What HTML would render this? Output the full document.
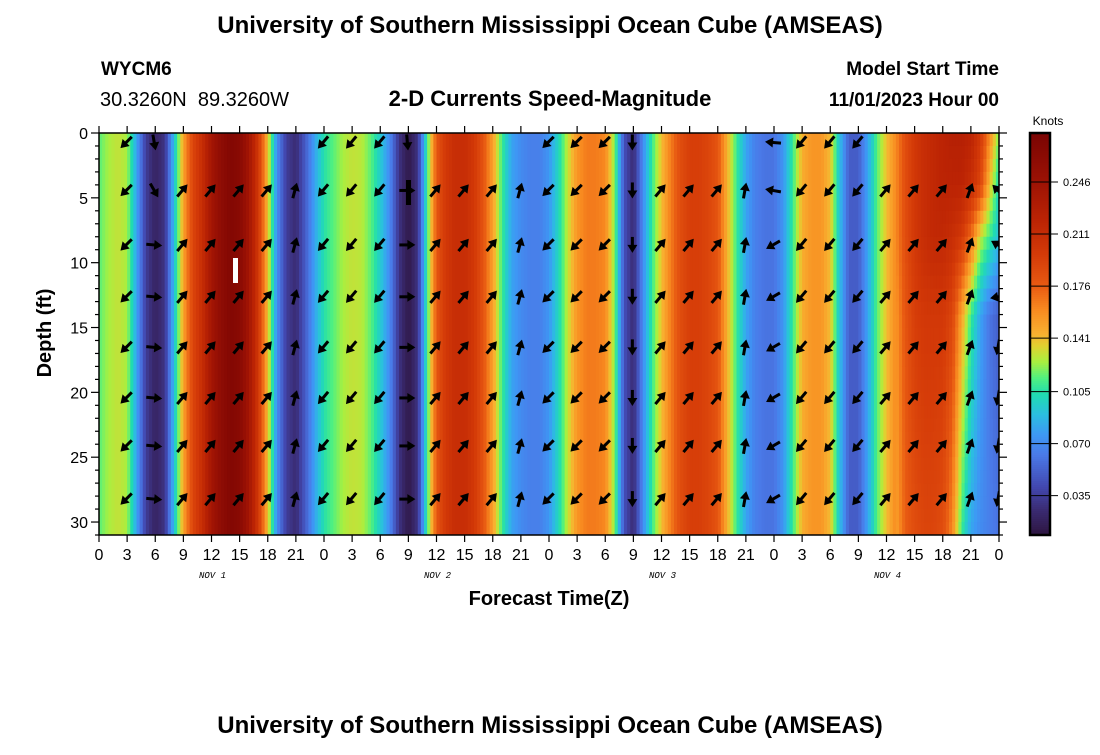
<!DOCTYPE html>
<html><head><meta charset="utf-8">
<style>
html,body{margin:0;padding:0;background:#fff;}
svg text{font-family:"Liberation Sans",Arial,sans-serif;}
</style></head>
<body>
<svg id="chart" width="1100" height="750" viewBox="0 0 1100 750" xmlns="http://www.w3.org/2000/svg">
  <text x="550" y="33" font-size="24" font-weight="bold" text-anchor="middle">University of Southern Mississippi Ocean Cube (AMSEAS)</text>
  <text x="101" y="75" font-size="19" font-weight="bold">WYCM6</text>
  <text x="100" y="106" font-size="20" xml:space="preserve">30.3260N  89.3260W</text>
  <text x="550" y="106" font-size="22" font-weight="bold" text-anchor="middle">2-D Currents Speed-Magnitude</text>
  <text x="999" y="75" font-size="19" font-weight="bold" text-anchor="end">Model Start Time</text>
  <text x="999" y="106" font-size="19" font-weight="bold" text-anchor="end">11/01/2023 Hour 00</text>
  <text x="1048" y="125" font-size="12" text-anchor="middle">Knots</text>
  <text transform="translate(51,333) rotate(-90)" font-size="20" font-weight="bold" text-anchor="middle">Depth (ft)</text>
  <text x="549" y="605" font-size="20" font-weight="bold" text-anchor="middle">Forecast Time(Z)</text>
  <text x="550" y="733" font-size="24" font-weight="bold" text-anchor="middle">University of Southern Mississippi Ocean Cube (AMSEAS)</text>
  <defs><clipPath id="plotclip"><rect x="99" y="133" width="900" height="402"/></clipPath></defs>
  <g id="heat" clip-path="url(#plotclip)"></g>
  <g id="arrows" clip-path="url(#plotclip)"></g>
  <g id="axes"></g>
  <g id="cbar"></g>
</svg>
<script>
// ---- data ----
const hours = [];
for (let h = 0; h <= 96; h++) hours.push(h);
const baseSpeed = [0.115,0.125,0.13,0.125,0.08,0.035,0.02,0.03,0.09,0.15,
0.19,0.21,0.24,0.26,0.27,0.265,0.24,0.2,0.14,0.07,
0.035,0.025,0.05,0.08,0.105,0.115,0.125,0.13,0.128,0.115,
0.095,0.07,0.03,0.012,0.03,0.11,0.18,0.2,0.21,0.21,
0.2,0.18,0.15,0.11,0.08,0.07,0.065,0.065,0.075,0.1,
0.13,0.155,0.165,0.165,0.16,0.12,0.045,0.025,0.07,0.11,
0.14,0.165,0.185,0.195,0.195,0.19,0.18,0.145,0.11,0.08,
0.065,0.06,0.06,0.075,0.11,0.145,0.155,0.155,0.14,0.09,
0.05,0.05,0.08,0.115,0.14,0.16,0.185,0.2,0.21,0.215,
0.22,0.22,0.215,0.2,0.17,0.12,0.09];
const tailStartHour = 85;
const tailDepths = [0, 4, 8, 14, 31];
const tailDepth0 = [0.16,0.185,0.2,0.21,0.215,0.22,0.225,0.225,0.22,0.2,0.16,0.12];
const tailDepth4 = [0.16,0.185,0.2,0.21,0.215,0.22,0.22,0.22,0.21,0.19,0.14,0.10];
const tailDepth8 = [0.16,0.185,0.2,0.21,0.215,0.215,0.21,0.2,0.17,0.13,0.11,0.09];
const tailDepth14 = [0.155,0.18,0.195,0.2,0.2,0.2,0.19,0.15,0.11,0.08,0.06,0.05];
const tailDepth31 = [0.15,0.175,0.185,0.19,0.19,0.185,0.16,0.11,0.08,0.07,0.065,0.06];
const tailRows = [tailDepth0, tailDepth4, tailDepth8, tailDepth14, tailDepth31];

const arrowHours = [3,6,9,12,15,18,21,24,27,30,33,36,39,42,45,48,51,54,57,60,63,66,69,72,75,78,81,84,87,90,93,96];
const arrowDepths = [0.5,4.2,8.4,12.4,16.3,20.2,23.9,28];
const arrowDir = [225,95,40,40,40,40,15,220,220,220,90,40,40,40,15,225,225,225,180,40,40,40,10,240,220,220,220,40,40,40,20,190];
const arrowDirRow0 = [225,170,40,40,40,40,15,220,220,220,175,40,40,40,15,225,225,225,180,40,40,40,10,275,220,220,220,40,40,40,20,315];
const arrowDirRow1 = [225,150,40,40,40,40,15,220,220,220,90,40,40,40,15,225,225,225,180,40,40,40,10,280,220,220,220,40,40,40,20,315];
const arrowDirRow2 = [225,95,40,40,40,40,15,220,220,220,90,40,40,40,15,225,225,225,180,40,40,40,10,240,220,220,220,40,40,40,20,300];
const arrowDirRow3 = [225,95,40,40,40,40,15,220,220,220,90,40,40,40,15,225,225,225,180,40,40,40,10,240,220,220,220,40,40,40,20,260];

const xTickHours = [];
for (let h = 0; h <= 96; h += 3) xTickHours.push(h);
const xTickLabels = ["0","3","6","9","12","15","18","21","0","3","6","9","12","15","18","21","0","3","6","9","12","15","18","21","0","3","6","9","12","15","18","21","0"];
const dayLabels = ["NOV 1","NOV 2","NOV 3","NOV 4"];
const dayLabelHours = [12,36,60,84];
const yTicks = [0,5,10,15,20,25,30];
const cbarTicks = [0.035,0.070,0.105,0.141,0.176,0.211,0.246];
const cbarMin = 0.0085, cbarMax = 0.279;

// ---- scales ----
const X0 = 99, X1 = 999, Y0 = 133, Y1 = 535;
const xs = h => X0 + (h / 96) * (X1 - X0);
const ys = d => Y0 + (d / 31) * (Y1 - Y0);
const NS = "http://www.w3.org/2000/svg";
function mk(tag, attrs, parent) {
  const e = document.createElementNS(NS, tag);
  for (const k in attrs) e.setAttribute(k, attrs[k]);
  parent.appendChild(e); return e;
}
const stops = [[0,"#2e1540"],[0.06,"#3a2a70"],[0.12,"#4248b0"],[0.2,"#4a7ae8"],[0.25,"#3d99f5"],[0.3,"#2bbfe0"],[0.35,"#20dcb0"],[0.39,"#50f080"],[0.43,"#a8f040"],[0.47,"#e0d030"],[0.5,"#f8b030"],[0.56,"#f88a20"],[0.62,"#e85a12"],[0.7,"#d43a08"],[0.78,"#bc2404"],[0.88,"#9c1204"],[1,"#7a0403"]];
function hex(c){return [parseInt(c.slice(1,3),16),parseInt(c.slice(3,5),16),parseInt(c.slice(5,7),16)];}
function color(v) {
  let t = (v - cbarMin) / (cbarMax - cbarMin);
  t = Math.max(0, Math.min(1, t));
  for (let i = 1; i < stops.length; i++) {
    if (t <= stops[i][0]) {
      const a = hex(stops[i-1][1]), b = hex(stops[i][1]);
      const f = (t - stops[i-1][0]) / (stops[i][0] - stops[i-1][0]);
      return "rgb(" + a.map((x,j)=>Math.round(x+(b[j]-x)*f)).join(",") + ")";
    }
  }
  return stops[stops.length-1][1];
}
function speedAt(h, d) {
  const i = Math.min(95, Math.floor(h)), f = h - i;
  const base = baseSpeed[i] + (baseSpeed[i+1] - baseSpeed[i]) * f;
  if (h < tailStartHour) return base;
  const ti = Math.min(tailDepth0.length - 2, Math.floor(h - tailStartHour)), tf = (h - tailStartHour) - ti;
  const vals = tailRows.map(r => r[ti] + (r[ti+1] - r[ti]) * tf);
  for (let k = 1; k < tailDepths.length; k++) {
    if (d <= tailDepths[k]) {
      const g = (d - tailDepths[k-1]) / (tailDepths[k] - tailDepths[k-1]);
      return vals[k-1] + (vals[k] - vals[k-1]) * g;
    }
  }
  return vals[vals.length-1];
}

// ---- heatmap ----
const heat = document.getElementById("heat");
for (let h = 0; h < 96; h += 0.33333) {
  const x = xs(h), w = xs(h + 0.33333) - x + 0.6;
  let runStart = 0, runColor = null;
  for (let d = 0; d <= 31; d += 1) {
    const c = color(speedAt(h + 0.16, d + 0.5));
    if (runColor === null) { runColor = c; runStart = d; }
    else if (c !== runColor) {
      const r = mk("rect", {x: x, y: ys(runStart), width: w, height: ys(d) - ys(runStart) + 0.6, fill: runColor}, heat);
      
      
      runColor = c; runStart = d;
    }
  }
  const r = mk("rect", {x: x, y: ys(runStart), width: w, height: ys(31) - ys(runStart) + 1, fill: runColor}, heat);
  
  
}

// ---- arrows ----
const arrows = document.getElementById("arrows");
function dirFor(ci, ri) {
  if (ri === 0) return arrowDirRow0[ci];
  if (ri === 1) return arrowDirRow1[ci];
  if (ri === 2) return arrowDirRow2[ci];
  if (ri === 3) return arrowDirRow3[ci];
  return arrowDir[ci];
}
arrowHours.forEach((h, ci) => {
  arrowDepths.forEach((d, ri) => {
    const ang = dirFor(ci, ri);
    if (ri === 0 && (ang < 95 || ang > 290)) return;
    const cx = xs(h) - 1, cy = ys(d) + 3;
    const rad = ang * Math.PI / 180;
    const dx = Math.sin(rad), dy = -Math.cos(rad);
    const L = 16;
    const x1 = cx - dx * L / 2, y1 = cy - dy * L / 2, x2 = cx + dx * L / 2, y2 = cy + dy * L / 2;
    const g = mk("g", {}, arrows);
    
    
    mk("line", {x1: x1, y1: y1, x2: x2 - dx * 5, y2: y2 - dy * 5, stroke: "#000", "stroke-width": 3}, g);
    const px = -dy, py = dx;
    const bx = x2 - dx * 8, by = y2 - dy * 8;
    mk("polygon", {points: `${x2},${y2} ${bx + px * 5},${by + py * 5} ${bx - px * 5},${by - py * 5}`, fill: "#000"}, g);
  });
});
const wb = mk("rect", {x: 233, y: 258, width: 5, height: 25, fill: "#fff"}, arrows);


const bb = mk("rect", {x: 406, y: 180, width: 5, height: 25, fill: "#000"}, arrows);



// ---- axes ----
const axes = document.getElementById("axes");
mk("rect", {x: X0, y: Y0, width: X1 - X0, height: Y1 - Y0, fill: "none", stroke: "#000", "stroke-width": 1.5}, axes);
xTickHours.forEach((h, i) => {
  const x = xs(h);
  mk("line", {x1: x, y1: Y1, x2: x, y2: Y1 + 7, stroke: "#000", "stroke-width": 1.2}, axes);
  mk("line", {x1: x, y1: Y0, x2: x, y2: Y0 - 7, stroke: "#000", "stroke-width": 1.2}, axes);
  const t = mk("text", {x: x, y: Y1 + 25, "font-size": 16, "text-anchor": "middle"}, axes);
  
  
  t.textContent = xTickLabels[i];
});
dayLabels.forEach((lab, i) => {
  const t = mk("text", {x: xs(dayLabelHours[i]) + 1, y: 578, "font-size": 9, "font-style": "italic", "text-anchor": "middle", style: "font-family:'Liberation Mono',monospace", "xml:space": "preserve"}, axes);
  
  
  t.textContent = lab;
});
for (let d = 0; d <= 31; d++) {
  const y = ys(d), major = d % 5 === 0;
  const L = major ? 8 : 4;
  mk("line", {x1: X0 - L, y1: y, x2: X0, y2: y, stroke: "#000", "stroke-width": 1.2}, axes);
  mk("line", {x1: X1, y1: y, x2: X1 + L, y2: y, stroke: "#000", "stroke-width": 1.2}, axes);
}
yTicks.forEach(d => {
  const t = mk("text", {x: 88, y: ys(d) + 6, "font-size": 16, "text-anchor": "end"}, axes);
  
  
  t.textContent = String(d);
});

// ---- colorbar ----
const cbar = document.getElementById("cbar");
const CX = 1030, CW = 20;
const cy = v => Y1 - (v - cbarMin) / (cbarMax - cbarMin) * (Y1 - Y0);
for (let y = Y0; y < Y1; y += 2) {
  const v = cbarMin + (Y1 - y - 1) / (Y1 - Y0) * (cbarMax - cbarMin);
  mk("rect", {x: CX, y: y, width: CW, height: 2.5, fill: color(v)}, cbar);
}
mk("rect", {x: CX, y: Y0, width: CW, height: Y1 - Y0, fill: "none", stroke: "#000", "stroke-width": 2.5}, cbar);
cbarTicks.forEach(v => {
  const y = cy(v);
  mk("line", {x1: CX, y1: y, x2: CX + CW + 8, y2: y, stroke: "#000", "stroke-width": 1}, cbar);
  const t = mk("text", {x: CX + CW + 13, y: y + 4, "font-size": 11}, cbar);
  
  
  t.textContent = v.toFixed(3);
});
</script>
</body></html>
